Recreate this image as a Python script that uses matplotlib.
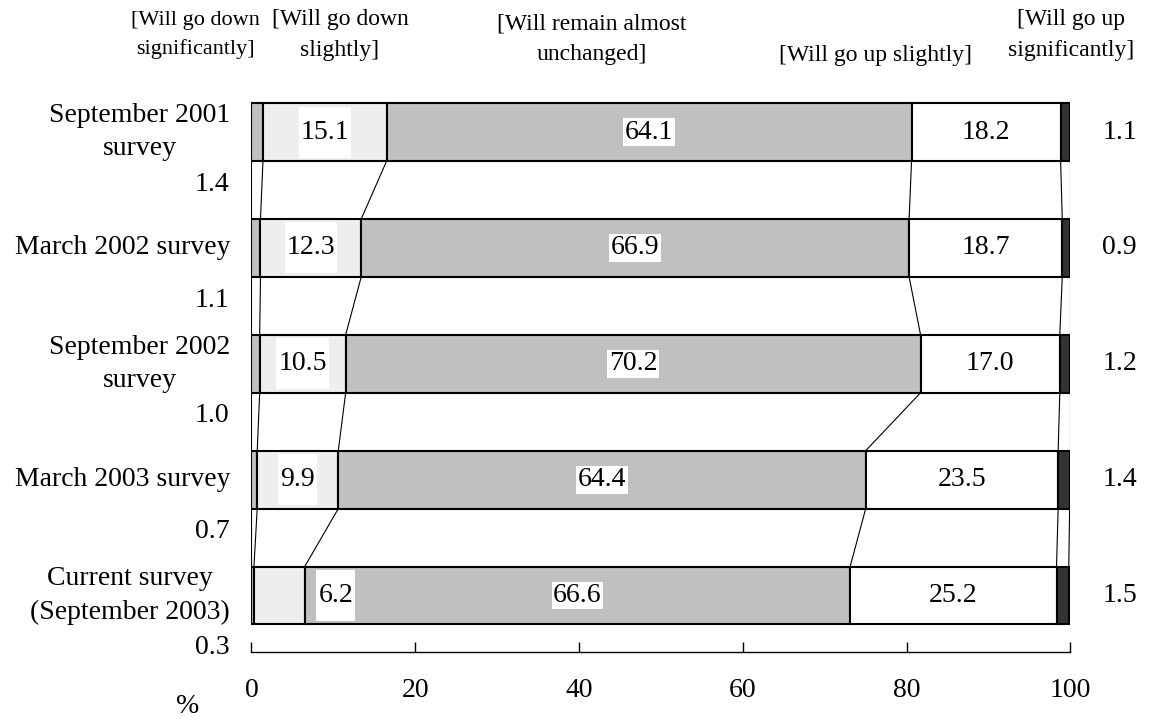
import matplotlib.pyplot as plt
import numpy as np

plt.rcParams['font.family'] = ['Liberation Serif', 'DejaVu Serif']

# survey rows, top to bottom
surveys = ["September 2001\nsurvey", "March 2002 survey", "September 2002\nsurvey",
           "March 2003 survey", "Current survey\n(September 2003)"]
down_sig = [1.4, 1.1, 1.0, 0.7, 0.3]
down_slight = [15.1, 12.3, 10.5, 9.9, 6.2]
unchanged = [64.1, 66.9, 70.2, 64.4, 66.6]
up_slight = [18.2, 18.7, 17.0, 23.5, 25.2]
up_sig = [1.1, 0.9, 1.2, 1.4, 1.5]

headers = ["[Will go down\nsignificantly]", "[Will go down\nslightly]",
           "[Will remain almost\nunchanged]", "[Will go up slightly]",
           "[Will go up\nsignificantly]"]
xticks = [0, 20, 40, 60, 80, 100]

fig = plt.figure(figsize=(11.52, 7.21), dpi=100, facecolor='w')
ax = fig.add_axes([0.2183, 0.0957, 0.7109, 0.9043])

y = np.arange(len(surveys))
h = 0.5
series = [down_sig, down_slight, unchanged, up_slight, up_sig]
colors = ['#c0c0c0', '#eeeeee', '#c0c0c0', 'white', '#333333']

# stacked bars, remembering the boundaries for the connector lines
left = np.zeros(len(surveys))
bounds = [left.copy()]
for vals, c in zip(series, colors):
    ax.barh(y, vals, left=left, height=h, color=c, edgecolor='black', linewidth=1.5, zorder=2)
    left = left + np.array(vals)
    bounds.append(left.copy())

# thin lines joining each boundary from one bar to the next
for b in bounds:
    for i in range(len(y) - 1):
        ax.plot([b[i], b[i + 1]], [y[i] + h / 2, y[i + 1] - h / 2], color='black', lw=0.8, zorder=1)

fs = 20
for i in range(len(y)):
    # "down slightly" value on a tall white patch
    start, width = bounds[1][i], down_slight[i]
    xc = start + width / 2 if width >= 8 else start + width + 3.8
    txt = f"{down_slight[i]:.1f}"
    ax.barh(y[i], 1.6 * len(txt), left=xc - 0.8 * len(txt), height=0.44, color='white', zorder=3)
    ax.text(xc, y[i], txt, ha='center', va='center', fontsize=fs, zorder=4)

    # "unchanged" value
    xc = bounds[2][i] + unchanged[i] / 2
    ax.text(xc, y[i], f"{unchanged[i]:.1f}", ha='center', va='center', fontsize=fs, zorder=4,
            bbox=dict(boxstyle='square,pad=0.05', fc='white', ec='none'))

    # "up slightly" value
    xc = bounds[3][i] + up_slight[i] / 2
    ax.text(xc, y[i], f"{up_slight[i]:.1f}", ha='center', va='center', fontsize=fs, zorder=4)

    # outer values
    ax.text(106.0, y[i], f"{up_sig[i]:.1f}", ha='center', va='center', fontsize=fs)
    ax.text(-4.8, y[i] + 0.45, f"{down_sig[i]:.1f}", ha='center', va='center', fontsize=fs)

    # row label
    ax.text(-2.6, y[i], surveys[i], ha='right', va='center', multialignment='center',
            fontsize=fs, linespacing=1.45)

# column headers
header_pos = [(-6.8, -0.837), (10.8, -0.837), (41.6, -0.80), (76.2, -0.66), (100.1, -0.837)]
header_fs = [16, 17, 17, 17, 17]
for (hx, hy), t, hfs in zip(header_pos, headers, header_fs):
    ax.text(hx, hy, t, ha='center', va='center', fontsize=hfs, linespacing=1.6)

ax.text(-7.75, 4.96, "%", ha='center', va='center', fontsize=fs)

ax.set_xlim(0, 100)
ax.set_ylim(4.4875, -1.14)
ax.set_xticks(xticks)
ax.set_yticks([])
ax.tick_params(axis='x', direction='in', length=7, width=1, pad=19, labelsize=fs)
for s in ['left', 'top', 'right']:
    ax.spines[s].set_visible(False)
ax.spines['bottom'].set_bounds(0, 100)
ax.spines['bottom'].set_linewidth(1)

plt.savefig("out.png", dpi=100)
